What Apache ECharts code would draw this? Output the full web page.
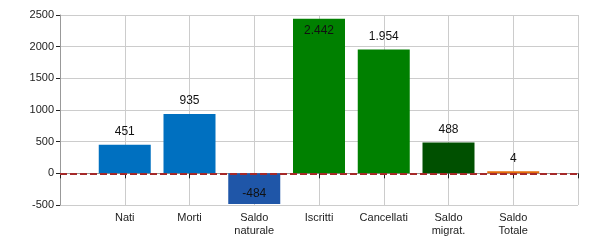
<!DOCTYPE html>
<html><head><meta charset="utf-8">
<script src="https://cdn.jsdelivr.net/npm/echarts@6/dist/echarts.min.js"></script>
<style>html,body{margin:0;padding:0;background:#fff}#c{width:600px;height:250px}</style>
</head><body><div id="c"></div>
<script>
const categories = ['', 'Nati', 'Morti', 'Saldo\nnaturale', 'Iscritti', 'Cancellati', 'Saldo\nmigrat.', 'Saldo\nTotale', ''];
const values = [null, 451, 935, -484, 2442, 1954, 488, 4, null];
const barColors = [null, '#0070C0', '#0070C0', '#1F56A8', '#008000', '#008000', '#005000', '#E46C0A', null];
const yTicks = { min: -500, max: 2500, interval: 500 };

const fmt = v => (v < 0 ? '-' : '') + String(Math.abs(v)).replace(/\B(?=(\d{3})+(?!\d))/g, '.');

const data = values.map((v, i) => {
  if (v === null) return '-';
  const d = { value: v, itemStyle: { color: barColors[i] } };
  if (v >= 2400) d.label = { position: 'insideTop', distance: 6 };
  else if (v < 0) d.label = { position: 'insideBottom', distance: 4 };
  return d;
});

const chart = echarts.init(document.getElementById('c'), null, { renderer: 'canvas' });
chart.setOption({
  animation: false,
  grid: { left: 60, right: 22, top: 15, bottom: 45, containLabel: false },
  xAxis: {
    type: 'category', data: categories, boundaryGap: false,
    axisLine: { lineStyle: { color: '#999' } },
    axisTick: { show: true, length: 5, lineStyle: { color: '#222' } },
    axisLabel: { color: '#222', fontFamily: 'Liberation Sans', fontSize: 11, lineHeight: 13, margin: 6, interval: 0 },
    splitLine: { show: true, lineStyle: { color: '#ccc' } }
  },
  yAxis: {
    type: 'value', min: yTicks.min, max: yTicks.max, interval: yTicks.interval,
    axisLine: { show: true, lineStyle: { color: '#999' } },
    axisTick: { show: true, length: 4, lineStyle: { color: '#222' } },
    axisLabel: { color: '#222', fontFamily: 'Liberation Sans', fontSize: 11, margin: 6, formatter: v => String(v) },
    splitLine: { show: true, lineStyle: { color: '#ccc' } }
  },
  series: [{
    type: 'bar', data: data, barWidth: 52, barMinHeight: 2,
    label: { show: true, position: 'top', distance: 7, color: '#111', fontFamily: 'Liberation Sans', fontSize: 12, formatter: p => fmt(p.value) },
    markLine: {
      silent: true, symbol: 'none', label: { show: false },
      lineStyle: { color: '#A52A2A', width: 2, type: [7, 3] },
      data: [{ yAxis: 0 }]
    }
  }]
});
</script></body></html>
